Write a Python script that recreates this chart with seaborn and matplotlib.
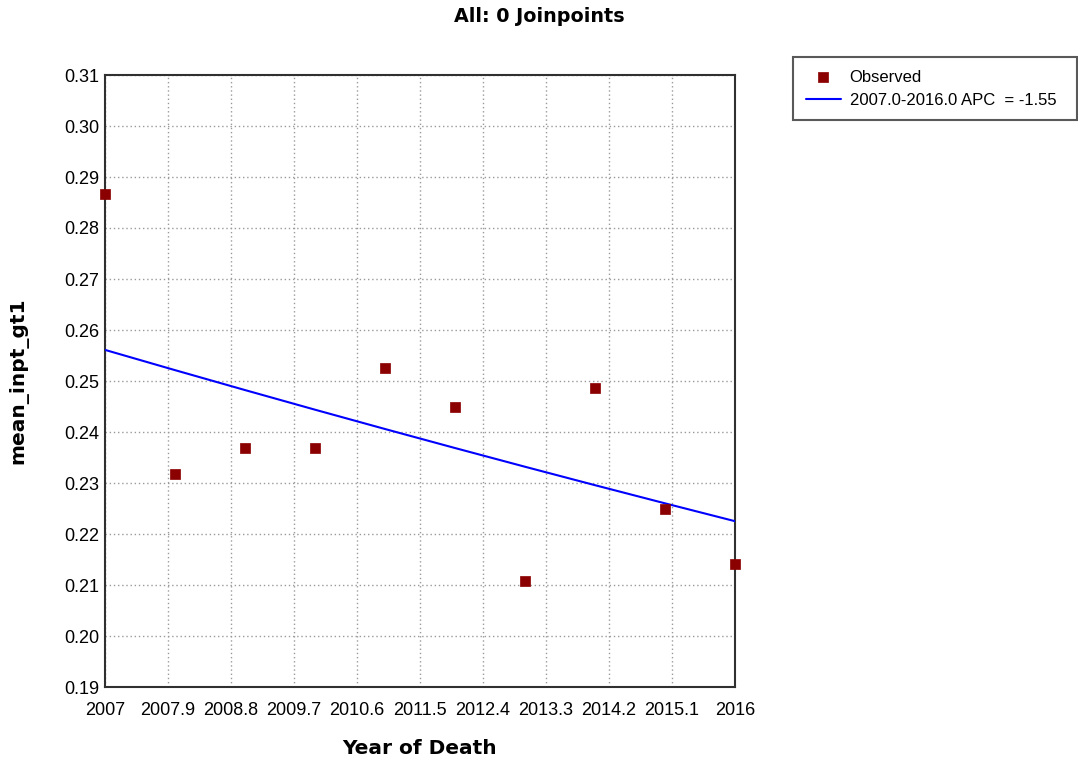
import numpy as np
import pandas as pd
import matplotlib
matplotlib.use("Agg")
import matplotlib.pyplot as plt
import seaborn as sns

# Observed annual means and the fitted 0-joinpoint trend
years = [2007, 2008, 2009, 2010, 2011, 2012, 2013, 2014, 2015, 2016]
observed = [0.2867, 0.2318, 0.2369, 0.2369, 0.2525, 0.2450, 0.2108, 0.2487, 0.2250, 0.2141]
fit_start = 0.2561
apc = -1.55
x_ticks = [2007, 2007.9, 2008.8, 2009.7, 2010.6, 2011.5, 2012.4, 2013.3, 2014.2, 2015.1, 2016]
x_tick_labels = ["2007", "2007.9", "2008.8", "2009.7", "2010.6", "2011.5",
                 "2012.4", "2013.3", "2014.2", "2015.1", "2016"]
y_ticks = [0.19, 0.20, 0.21, 0.22, 0.23, 0.24, 0.25, 0.26, 0.27, 0.28, 0.29, 0.30, 0.31]
fit_label = "2007.0-2016.0 APC  = -1.55"

sns.set_style("white")
plt.rcParams["font.family"] = ["Liberation Sans", "DejaVu Sans"]
plt.rcParams["text.color"] = "black"
plt.rcParams["axes.labelcolor"] = "black"

df = pd.DataFrame({"year": years, "observed": observed})
df["fitted"] = fit_start * (1 + apc / 100.0) ** (df["year"] - years[0])

fig = plt.figure(figsize=(10.78, 7.64), dpi=100)
ax = fig.add_axes([105 / 1078, 1 - 687 / 764, 630 / 1078, 612 / 764])

sns.lineplot(data=df, x="year", y="fitted", ax=ax, color="#0000FF", linewidth=1.5,
             label=fit_label, zorder=3)
sns.scatterplot(data=df, x="year", y="observed", ax=ax, marker="s", s=45,
                color="#8B0000", edgecolor="#8B0000", linewidth=0.5,
                label="Observed", zorder=5, clip_on=False)

ax.set_xlim(2007, 2016)
ax.set_ylim(0.19, 0.31)
ax.set_xticks(x_ticks)
ax.set_xticklabels(x_tick_labels)
ax.set_yticks(y_ticks)
ax.set_yticklabels([f"{v:.2f}" for v in y_ticks])
ax.tick_params(axis="both", length=0, labelsize=13, colors="#000000")
ax.tick_params(axis="x", pad=11)
ax.tick_params(axis="y", pad=4)

ax.grid(True, color="#9A9A9A", linestyle=(0, (1, 2)), linewidth=1.0)
ax.set_axisbelow(True)
for sp in ax.spines.values():
    sp.set_visible(True)
    sp.set_color("#303030")
    sp.set_linewidth(1.5)

ax.set_xlabel("Year of Death", fontsize=14.5, fontweight="bold",
              family=["DejaVu Sans"], color="black")
ax.set_ylabel("mean_inpt_gt1", fontsize=14.5, fontweight="bold",
              family=["DejaVu Sans"], color="black")
ax.yaxis.set_label_coords(-0.122, 0.5)
ax.xaxis.set_label_coords(0.5, -0.085)

fig.text(0.5, 1 - 17 / 764, "All: 0 Joinpoints", ha="center", va="center",
         fontsize=13.8, fontweight="bold", family=["DejaVu Sans"], color="black")

# Legend in a plain box to the right of the plot
ax.get_legend().remove()
handles, labels = ax.get_legend_handles_labels()
order = [labels.index("Observed"), labels.index(fit_label)]
leg = fig.legend([handles[i] for i in order], [labels[i] for i in order],
                 loc="upper left", bbox_to_anchor=(793 / 1078, 1 - 57 / 764, 284 / 1078, 0.0),
                 mode="expand", fontsize=12, frameon=True, fancybox=False,
                 borderpad=0.75, handlelength=2.1, handletextpad=0.55,
                 labelspacing=0.5, borderaxespad=0)
leg.get_frame().set_edgecolor("#303030")
leg.get_frame().set_linewidth(1.5)

fig.savefig("out.png", dpi=100)
